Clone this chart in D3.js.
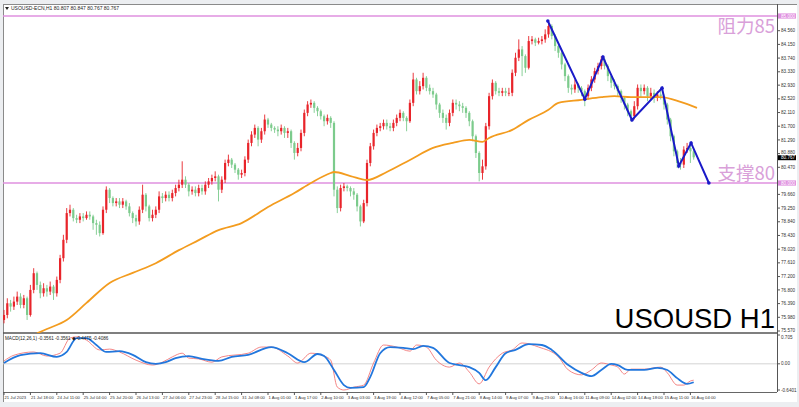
<!DOCTYPE html>
<html><head><meta charset="utf-8">
<script src="https://cdn.jsdelivr.net/npm/d3@7"></script>
<style>html,body{margin:0;padding:0;background:#eceef1;}svg{display:block}</style>
</head><body>
<svg id="c" width="799" height="407"></svg>
<script>
// ---- data (2-hour resolution) ----
const firstOpen = 75.90;
const closes = [76.05,76.40,76.30,76.45,76.60,76.35,76.55,76.05,76.80,77.30,
76.95,76.70,76.85,76.75,76.90,76.70,77.10,77.75,78.30,79.10,
79.20,78.95,78.90,79.00,78.95,79.05,79.00,78.80,78.75,78.50,
79.20,79.80,79.55,79.40,79.45,79.35,79.45,79.30,79.10,78.95,
78.85,79.20,79.65,79.30,78.95,79.05,79.20,79.60,79.55,79.65,
79.55,79.70,79.85,79.95,80.10,79.95,79.75,79.80,79.70,79.85,
79.75,79.95,80.05,80.15,80.20,79.80,80.10,80.60,80.70,80.55,
80.40,80.25,80.30,80.70,81.20,81.45,81.65,81.30,81.55,81.90,
81.75,81.65,81.60,81.55,81.65,81.50,81.55,81.20,80.90,81.05,
81.50,82.10,82.35,82.40,82.25,82.15,82.00,81.85,81.95,81.80,
79.80,79.25,79.85,79.90,79.85,79.75,79.65,79.30,78.85,79.40,
80.60,81.10,81.50,81.65,81.70,81.80,81.70,81.65,81.80,81.95,
82.10,81.95,81.85,82.40,83.10,82.75,82.90,83.15,82.85,82.75,
82.65,82.35,82.10,81.95,81.80,82.10,82.40,82.35,82.30,82.25,
82.10,81.85,81.40,80.90,80.30,80.50,81.70,82.60,83.00,82.75,
82.70,82.75,82.70,82.70,83.30,83.75,84.00,83.80,83.45,84.25,
84.30,84.20,84.25,84.30,84.45,84.70,84.40,84.10,83.90,83.55,
83.20,82.85,82.80,82.95,82.85,82.75,82.60,82.85,83.10,83.35,
83.50,83.70,83.50,83.20,83.00,82.90,82.75,82.55,82.35,82.15,
82.00,82.30,82.85,82.75,82.85,82.60,82.70,82.55,82.65,82.60,
82.35,81.90,81.40,80.95,80.60,80.55,81.00,81.05,80.95,80.77];
const highs = [76.20,76.55,76.50,76.60,76.75,76.70,76.65,76.60,76.95,77.45,
77.35,77.05,77.00,76.95,77.05,76.95,77.20,77.85,78.45,79.25,
79.35,79.25,79.05,79.10,79.10,79.15,79.15,79.05,78.90,78.85,
79.30,79.90,79.85,79.60,79.55,79.55,79.55,79.50,79.40,79.15,
79.05,79.30,79.95,79.70,79.35,79.20,79.30,79.75,79.70,79.75,
79.75,79.80,79.95,80.10,80.65,80.20,80.00,79.90,79.90,79.95,
79.95,80.05,80.15,80.25,80.35,80.25,80.20,80.70,80.85,80.75,
80.60,80.45,80.40,80.80,81.30,81.55,81.75,81.70,81.65,82.05,
81.95,81.80,81.70,81.70,81.75,81.70,81.65,81.60,81.25,81.20,
81.60,82.20,82.45,82.50,82.45,82.30,82.20,82.05,82.05,82.00,
81.85,79.90,79.95,80.00,79.95,79.90,79.85,79.70,79.35,79.50,
80.70,81.20,81.60,81.75,81.80,81.90,81.90,81.80,81.90,82.05,
82.20,82.15,82.00,82.50,83.30,83.15,83.05,83.30,83.20,82.95,
82.85,82.70,82.40,82.20,82.05,82.20,82.50,82.50,82.45,82.40,
82.30,82.15,81.90,81.45,80.95,80.70,81.80,82.70,83.10,83.05,
82.85,82.85,82.85,82.85,83.40,83.90,84.30,84.10,83.85,84.40,
84.40,84.35,84.35,84.40,84.60,84.85,84.75,84.45,84.15,83.95,
83.60,83.25,82.95,83.10,83.00,82.90,82.80,82.95,83.20,83.45,
83.60,83.80,83.75,83.55,83.25,83.10,82.95,82.80,82.60,82.40,
82.20,82.45,82.95,82.95,82.95,82.90,82.85,82.80,82.75,82.85,
82.65,82.40,81.95,81.45,81.00,80.75,81.10,81.20,81.15,81.00];
const lows = [75.80,75.95,76.15,76.20,76.35,76.25,76.25,75.90,76.00,76.70,
76.80,76.55,76.60,76.60,76.65,76.50,76.60,77.00,77.65,78.20,
79.00,78.85,78.80,78.80,78.85,78.90,78.90,78.60,78.45,78.40,
78.45,79.10,79.40,79.30,79.30,79.25,79.25,79.20,79.00,78.80,
78.70,78.75,79.10,79.15,78.85,78.85,78.95,79.10,79.40,79.45,
79.45,79.45,79.60,79.75,79.85,79.85,79.60,79.65,79.60,79.60,
79.65,79.65,79.85,79.95,80.05,79.45,79.70,80.00,80.50,80.45,
80.30,80.10,80.15,80.20,80.60,81.10,81.35,81.10,81.20,81.45,
81.65,81.55,81.50,81.40,81.45,81.35,81.35,81.05,80.70,80.80,
80.95,81.40,82.00,82.25,82.10,82.00,81.90,81.70,81.75,81.65,
79.60,79.10,79.15,79.75,79.75,79.60,79.50,79.15,78.70,78.80,
79.30,80.50,81.00,81.40,81.55,81.60,81.60,81.55,81.55,81.70,
81.85,81.85,81.55,81.80,82.30,82.65,82.65,82.80,82.75,82.65,
82.55,82.20,81.95,81.80,81.60,81.70,82.00,82.20,82.15,82.10,
81.95,81.70,81.25,80.75,80.05,80.10,80.40,81.60,82.50,82.65,
82.60,82.60,82.60,82.60,82.60,83.20,83.65,83.20,83.30,83.40,
84.15,84.10,84.15,84.15,84.20,84.35,84.30,83.95,83.75,83.40,
83.05,82.70,82.65,82.70,82.70,82.60,82.30,82.50,82.75,83.00,
83.25,83.40,83.40,83.05,82.85,82.80,82.60,82.40,82.20,82.00,
81.85,81.90,82.20,82.55,82.65,82.45,82.50,82.40,82.45,82.50,
82.20,81.75,81.25,80.80,80.45,80.40,80.45,80.90,80.60,80.70];

const maIdx = [10,13,19,25,32,39,46,53,59,65,72,80,88,93,99,100,105,110,116,123,130,136,141,145,147,154,159,165,168,175,181,185,190,195,199,205,210];
const maVal = [75.50,75.63,75.90,76.41,77.01,77.31,77.60,77.99,78.29,78.59,78.80,79.28,79.70,80.00,80.30,80.33,80.21,80.09,80.33,80.69,81.05,81.20,81.29,81.23,81.35,81.59,81.89,82.19,82.40,82.49,82.57,82.60,82.57,82.57,82.57,82.43,82.25];

const zigIdx = [164.8,176,181.5,190.3,199.4,204.5,208.2,213.6];
const zigVal = [84.85,82.51,83.77,81.89,82.84,80.51,81.20,80.00];

const macdIdx = [0,5,11,16,19,22,25,28,31,35,39,43,46,49,52,56,60,65,69,74,81,86,91,95,97,100,103,105,109,111,114,117,121,124,127,130,135,138,141,144,146,149,152,155,159,163,166,171,175,178,181,184,186,189,194,198,201,204,207,209];
const macdVal = [0.02,0.21,0.26,0.17,0.29,0.63,0.63,0.46,0.29,0.31,0.22,0.04,0.00,0.04,0.14,0.19,0.12,0.07,0.17,0.22,0.41,0.26,0.04,0.24,0.19,-0.15,-0.52,-0.59,-0.57,-0.32,0.26,0.41,0.39,0.36,0.44,0.39,0.02,-0.03,-0.08,-0.22,-0.40,-0.08,0.26,0.34,0.48,0.46,0.34,-0.03,-0.22,-0.30,-0.15,0.00,-0.03,-0.15,-0.15,-0.10,-0.15,-0.35,-0.49,-0.45];
const sigIdx = [0,3,9,13,17,20,22,25,29,32,35,40,45,48,51,54,56,59,63,66,74,78,81,86,89,93,97,99,101,103,106,109,112,115,119,123,125,128,131,135,138,141,144,147,151,154,157,162,168,171,175,178,181,184,186,188,190,194,199,201,204,206,208,209];
const sigVal = [0.07,0.21,0.29,0.19,0.26,0.63,0.66,0.58,0.34,0.36,0.29,0.09,-0.03,0.04,0.17,0.26,0.14,0.12,0.04,0.17,0.26,0.41,0.41,0.19,0.02,0.26,0.19,0.09,-0.57,-0.64,-0.57,-0.52,0.02,0.46,0.41,0.31,0.46,0.41,0.09,-0.08,0.02,-0.20,-0.49,-0.08,0.26,0.34,0.51,0.41,0.17,-0.15,-0.27,-0.15,0.02,-0.03,-0.08,-0.25,-0.13,-0.13,-0.08,-0.22,-0.52,-0.52,-0.42,-0.40];

const priceTicks = [84.560,84.150,83.740,83.330,82.930,82.520,82.110,81.700,81.290,80.880,80.470,79.660,79.250,78.840,78.430,78.020,77.610,77.200,76.800,76.390,75.980,75.570];
const levels = [85.000, 80.000];
const levelLabels = ["阻力85", "支撑80"];
const lastPrice = 80.767;
const timeLabels = ["21 Jul 2023","21 Jul 18:00","24 Jul 11:00","25 Jul 04:00","25 Jul 20:00","26 Jul 13:00","27 Jul 06:00","27 Jul 23:00","28 Jul 15:00","31 Jul 08:00","1 Aug 01:00","1 Aug 17:00","2 Aug 10:00","3 Aug 03:00","3 Aug 19:00","4 Aug 12:00","7 Aug 05:00","7 Aug 21:00","8 Aug 14:00","9 Aug 07:00","9 Aug 23:00","10 Aug 16:00","11 Aug 09:00","14 Aug 02:00","14 Aug 18:00","15 Aug 11:00","16 Aug 04:00"];
const macdTicks = [0.705, 0.00, -0.6401];
const macdTickText = ["0.705","0.00","-0.6401"];
const headerText = "USOUSD-ECN,H1  80.807 80.847 80.767 80.767";
const macdText = "MACD(12,26,1) -0.3561 -0.3561  \u25C6-0.4475 -0.4086";

// ---- layout ----
const L = 3, R = 777, mainTop = 5, mainBot = 333, indTop = 334, indBot = 392;
const svg = d3.select("#c");
const font = "'Liberation Sans', Arial, sans-serif";

const x = d3.scaleLinear().domain([0, 209]).range([4, 693.7]);
const y = d3.scaleLinear().domain([75.57, 85.00]).range([331, 16]);
const ym = d3.scaleLinear().domain([-0.6401, 0.705]).range([390, 335]);

// backgrounds
svg.append("rect").attr("x",0).attr("y",0).attr("width",799).attr("height",407).attr("fill","#eceef1");
svg.append("rect").attr("x",L).attr("y",4).attr("width",797-L).attr("height",398).attr("fill","#fff");

const defs = svg.append("defs");
defs.append("clipPath").attr("id","mainClip")
  .append("rect").attr("x",L).attr("y",mainTop).attr("width",R-L).attr("height",mainBot-mainTop);
defs.append("clipPath").attr("id","indClip")
  .append("rect").attr("x",L).attr("y",indTop).attr("width",R-L).attr("height",indBot-indTop);

// frame lines
svg.append("line").attr("x1",L).attr("x2",797).attr("y1",4.5).attr("y2",4.5).attr("stroke","#8a8a8a");
svg.append("line").attr("x1",L+0.5).attr("x2",L+0.5).attr("y1",4).attr("y2",402).attr("stroke","#8a8a8a");
svg.append("line").attr("x1",R+0.5).attr("x2",R+0.5).attr("y1",4).attr("y2",indBot).attr("stroke","#555");
svg.append("line").attr("x1",L).attr("x2",R).attr("y1",333).attr("y2",333).attr("stroke","#555").attr("stroke-width",1.6);
svg.append("line").attr("x1",L).attr("x2",R).attr("y1",indBot+0.5).attr("y2",indBot+0.5).attr("stroke","#666");

const main = svg.append("g").attr("clip-path","url(#mainClip)");

// level lines
levels.forEach(v => {
  main.append("line").attr("x1",L).attr("x2",R).attr("y1",y(v)).attr("y2",y(v))
    .attr("stroke","#df90df").attr("stroke-width",1.4);
});

// candles
const opens = closes.map((c,i) => i === 0 ? firstOpen : closes[i-1]);
const up = "#e8242a", dn = "#7ccb8c";
const cg = main.append("g");
closes.forEach((c,i) => {
  const o = opens[i], col = c >= o ? up : dn;
  cg.append("line").attr("x1",x(i)).attr("x2",x(i)).attr("y1",y(highs[i])).attr("y2",y(lows[i]))
    .attr("stroke",col).attr("stroke-width",0.9);
  const top = y(Math.max(o,c)), bot = y(Math.min(o,c));
  cg.append("rect").attr("x",x(i)-1.1).attr("y",top).attr("width",2.2).attr("height",Math.max(0.8,bot-top)).attr("fill",col);
});

// moving average
main.append("path").datum(maIdx.map((d,i)=>[d,maVal[i]]))
  .attr("d", d3.line().x(d=>x(d[0])).y(d=>y(d[1])).curve(d3.curveMonotoneX))
  .attr("fill","none").attr("stroke","#f39c1f").attr("stroke-width",1.8);

// zigzag
const zz = zigIdx.map((d,i)=>[d,zigVal[i]]);
svg.append("path").datum(zz).attr("d", d3.line().x(d=>x(d[0])).y(d=>y(d[1])))
  .attr("fill","none").attr("stroke","#1a1ac8").attr("stroke-width",2);
svg.selectAll(".zd").data(zz).enter().append("circle").attr("cx",d=>x(d[0])).attr("cy",d=>y(d[1])).attr("r",1.8).attr("fill","#1a1ac8");

// level labels: resistance below its line, support above its line
levels.forEach((v,i) => {
  const by = i === 0 ? y(v) + 17 : y(v) - 3;
  svg.append("text").attr("x",775).attr("y",by).attr("text-anchor","end")
    .attr("font-family","'Noto Sans CJK SC', sans-serif").attr("font-size",18.5).attr("fill","#d9a0d9")
    .text(levelLabels[i]);
});

// big title
svg.append("text").attr("x",775).attr("y",328).attr("text-anchor","end").attr("font-family",font)
  .attr("font-size",27.5).attr("fill","#000").text("USOUSD H1");

// header
svg.append("path").attr("d","M5,7 L9,7 L7,10 Z").attr("fill","#222");
svg.append("text").attr("x",11).attr("y",10).attr("font-family",font).attr("font-size",5).attr("fill","#222").text(headerText);

// price axis
const ax = svg.append("g").attr("font-family",font).attr("font-size",4.6).attr("fill","#333");
priceTicks.forEach(v => {
  let dy = 1.6;
  if (Math.abs(y(v) - y(lastPrice)) < 6) dy = y(v) < y(lastPrice) ? 0.6 : 2.8;
  if (v === 75.570) dy = 0.8;
  ax.append("line").attr("x1",R).attr("x2",R+3).attr("y1",y(v)).attr("y2",y(v)).attr("stroke","#555");
  ax.append("text").attr("x",781).attr("y",y(v)+dy).text(v.toFixed(3));
});
levels.forEach(v => {
  ax.append("rect").attr("x",R+1).attr("y",y(v)-2.6).attr("width",18).attr("height",5.2).attr("fill","#df90df");
  ax.append("text").attr("x",781).attr("y",y(v)+1.6).attr("fill","#fff").text(v.toFixed(3));
});
ax.append("rect").attr("x",R+1).attr("y",y(lastPrice)-2.2).attr("width",18).attr("height",5).attr("fill","#000");
ax.append("text").attr("x",781).attr("y",y(lastPrice)+1.9).attr("fill","#fff").text(lastPrice.toFixed(3));

// MACD panel
const ind = svg.append("g").attr("clip-path","url(#indClip)");
ind.append("line").attr("x1",L).attr("x2",R).attr("y1",ym(0)).attr("y2",ym(0)).attr("stroke","#c8c8c8").attr("stroke-width",0.8);
ind.append("path").datum(sigIdx.map((d,i)=>[d,sigVal[i]]))
  .attr("d", d3.line().x(d=>x(d[0])).y(d=>ym(d[1])).curve(d3.curveMonotoneX))
  .attr("fill","none").attr("stroke","#f27878").attr("stroke-width",0.9);
ind.append("path").datum(macdIdx.map((d,i)=>[d,macdVal[i]]))
  .attr("d", d3.line().x(d=>x(d[0])).y(d=>ym(d[1])).curve(d3.curveMonotoneX))
  .attr("fill","none").attr("stroke","#2277dd").attr("stroke-width",1.8);
svg.append("text").attr("x",5).attr("y",340).attr("font-family",font).attr("font-size",4.6).attr("fill","#222").text(macdText);
macdTicks.forEach((v,i) => {
  const dy = i === 0 ? 3.8 : 1.6;
  ax.append("line").attr("x1",R).attr("x2",R+3).attr("y1",ym(v)).attr("y2",ym(v)).attr("stroke","#555");
  ax.append("text").attr("x",781).attr("y",ym(v)+dy).text(macdTickText[i]);
});

// time axis
timeLabels.forEach((t,k) => {
  const xx = x(k*8);
  ax.append("line").attr("x1",xx).attr("x2",xx).attr("y1",indBot).attr("y2",indBot+3).attr("stroke","#555");
  ax.append("text").attr("x",xx+0.5).attr("y",399).attr("font-size",4.2).text(t);
});
</script>
</body></html>
